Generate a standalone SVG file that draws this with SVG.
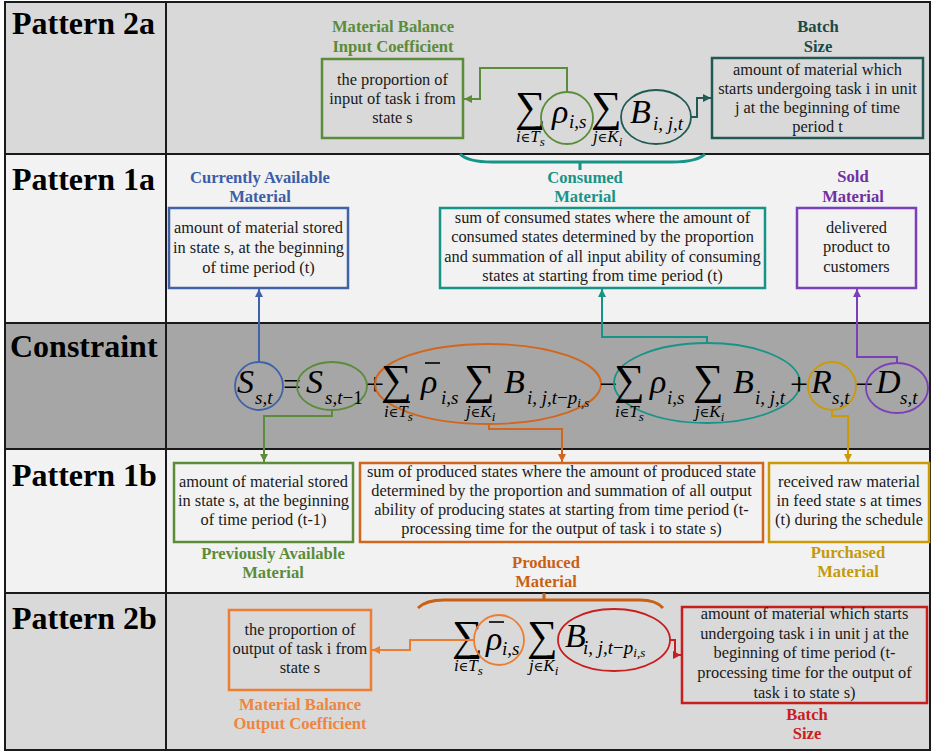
<svg xmlns="http://www.w3.org/2000/svg" width="931" height="752" viewBox="0 0 931 752">
  <style>
    .rowlbl { font-family: "Liberation Serif", serif; font-size: 32px; font-weight: bold; fill: #000; }
    .body { font-family: "Liberation Serif", serif; font-size: 16.4px; fill: #1a1a1a; text-anchor: middle; }
    .ttl { font-family: "Liberation Serif", serif; font-size: 16.6px; font-weight: bold; text-anchor: middle; }
    .box { fill: none; stroke-width: 2.5; }
    .ring { fill: none; stroke-width: 1.8; }
    .wire { fill: none; stroke-width: 2; }
    .v { font-family: "Liberation Serif", serif; font-style: italic; font-size: 34px; fill: #000; }
    .s { font-family: "Liberation Serif", serif; font-style: italic; font-size: 19px; fill: #000; }
    .lim { font-family: "Liberation Serif", serif; font-style: italic; font-size: 17px; fill: #000; }
    .ss { font-family: "Liberation Serif", serif; font-style: italic; font-size: 13px; fill: #000; }
    .el { font-family: "Liberation Serif", "DejaVu Serif", serif; font-style: normal; font-size: 13px; }
    .op { font-family: "Liberation Serif", serif; font-size: 32px; fill: #000; }
    .sum { font-family: "Liberation Serif", "DejaVu Serif", serif; font-size: 43px; fill: #000; }
    .up { font-style: normal; }
    .bar { stroke: #000; stroke-width: 1.6; }
  </style>
  <defs>
    <marker id="ah-green" markerUnits="userSpaceOnUse" markerWidth="8" markerHeight="8" refX="8" refY="4" orient="auto"><path d="M0,0 L8,4 L0,8 z" fill="#5b8c3a"/></marker>
    <marker id="ah-dteal" markerUnits="userSpaceOnUse" markerWidth="8" markerHeight="8" refX="8" refY="4" orient="auto"><path d="M0,0 L8,4 L0,8 z" fill="#215a54"/></marker>
    <marker id="ah-blue" markerUnits="userSpaceOnUse" markerWidth="8" markerHeight="8" refX="8" refY="4" orient="auto"><path d="M0,0 L8,4 L0,8 z" fill="#4062a8"/></marker>
    <marker id="ah-teal" markerUnits="userSpaceOnUse" markerWidth="8" markerHeight="8" refX="8" refY="4" orient="auto"><path d="M0,0 L8,4 L0,8 z" fill="#179488"/></marker>
    <marker id="ah-purple" markerUnits="userSpaceOnUse" markerWidth="8" markerHeight="8" refX="8" refY="4" orient="auto"><path d="M0,0 L8,4 L0,8 z" fill="#7b3fb8"/></marker>
    <marker id="ah-orange" markerUnits="userSpaceOnUse" markerWidth="8" markerHeight="8" refX="8" refY="4" orient="auto"><path d="M0,0 L8,4 L0,8 z" fill="#d2661c"/></marker>
    <marker id="ah-gold" markerUnits="userSpaceOnUse" markerWidth="8" markerHeight="8" refX="8" refY="4" orient="auto"><path d="M0,0 L8,4 L0,8 z" fill="#cc9a06"/></marker>
    <marker id="ah-lorange" markerUnits="userSpaceOnUse" markerWidth="8" markerHeight="8" refX="8" refY="4" orient="auto"><path d="M0,0 L8,4 L0,8 z" fill="#ed7d31"/></marker>
    <marker id="ah-red" markerUnits="userSpaceOnUse" markerWidth="8" markerHeight="8" refX="8" refY="4" orient="auto"><path d="M0,0 L8,4 L0,8 z" fill="#c81e1e"/></marker>
  </defs>

  <!-- table bands -->
  <g id="bands">
    <rect x="5" y="2" width="925" height="152" fill="#d9d9d9"/>
    <rect x="5" y="154" width="925" height="169" fill="#f2f2f2"/>
    <rect x="5" y="323" width="925" height="126" fill="#a6a6a6"/>
    <rect x="5" y="449" width="925" height="144" fill="#f2f2f2"/>
    <rect x="5" y="593" width="925" height="157" fill="#d9d9d9"/>
    <g stroke="#1a1a1a" stroke-width="2" fill="none">
      <rect x="5" y="2" width="925" height="748"/>
      <line x1="166" y1="2" x2="166" y2="750"/>
      <line x1="5" y1="154" x2="930" y2="154"/>
      <line x1="5" y1="323" x2="930" y2="323"/>
      <line x1="5" y1="449" x2="930" y2="449"/>
      <line x1="5" y1="593" x2="930" y2="593"/>
    </g>
    <text class="rowlbl" x="12" y="34">Pattern 2a</text>
    <text class="rowlbl" x="12" y="190">Pattern 1a</text>
    <text class="rowlbl" x="10" y="357">Constraint</text>
    <text class="rowlbl" x="12" y="486">Pattern 1b</text>
    <text class="rowlbl" x="12" y="629">Pattern 2b</text>
  </g>

  <!-- Pattern 2a -->
  <g id="input-coefficient">
    <text class="ttl" x="393" y="32" fill="#5b8c3a">Material Balance</text>
    <text class="ttl" x="393" y="52" fill="#5b8c3a">Input Coefficient</text>
    <rect class="box" x="322" y="59" width="141" height="79" stroke="#5b8c3a"/>
    <text class="body" x="392.5" y="85">the proportion of</text>
    <text class="body" x="392.5" y="104">input of task i from</text>
    <text class="body" x="392.5" y="123">state s</text>
  </g>
  <g id="batch-size-a">
    <text class="ttl" x="818" y="32" fill="#1a4a44">Batch</text>
    <text class="ttl" x="818" y="52" fill="#1a4a44">Size</text>
    <rect class="box" x="712" y="58" width="211" height="80" stroke="#215a54"/>
    <text class="body" x="817.5" y="75">amount of material which</text>
    <text class="body" x="817.5" y="94">starts undergoing task i in unit</text>
    <text class="body" x="817.5" y="113">j at the beginning of time</text>
    <text class="body" x="817.5" y="132">period t</text>
  </g>
  <g id="term-2a">
    <text class="sum" x="515" y="121">∑</text>
    <text class="lim" x="516" y="142">i<tspan class="el">∈</tspan>T<tspan class="ss" dy="4">s</tspan></text>
    <circle class="ring" cx="567" cy="118" r="26" stroke="#5b8c3a"/>
    <text class="v" x="552" y="123">ρ</text>
    <text class="s" x="569" y="128">i,s</text>
    <text class="sum" x="591" y="121">∑</text>
    <text class="lim" x="593" y="142">j<tspan class="el">∈</tspan>K<tspan class="ss" dy="4">i</tspan></text>
    <ellipse class="ring" cx="656" cy="117" rx="35" ry="27" stroke="#215a54"/>
    <text class="v" x="630" y="123">B</text>
    <text class="s" x="653" y="130">i, j,t</text>
  </g>

  <!-- Pattern 1a -->
  <g id="currently-available">
    <text class="ttl" x="260" y="183" fill="#3c5ea6">Currently Available</text>
    <text class="ttl" x="260" y="202" fill="#3c5ea6">Material</text>
    <rect class="box" x="169" y="208" width="179" height="80" stroke="#4062a8"/>
    <text class="body" x="258.5" y="233">amount of material stored</text>
    <text class="body" x="258.5" y="253">in state s, at the beginning</text>
    <text class="body" x="258.5" y="273">of time period (t)</text>
  </g>
  <g id="consumed">
    <text class="ttl" x="585" y="183" fill="#179488">Consumed</text>
    <text class="ttl" x="585" y="202" fill="#179488">Material</text>
    <rect class="box" x="440" y="208" width="325" height="80" stroke="#179488"/>
    <text class="body" x="602.5" y="223">sum of consumed states where the amount of</text>
    <text class="body" x="602.5" y="242">consumed states determined by the proportion</text>
    <text class="body" x="602.5" y="262">and summation of all input ability of consuming</text>
    <text class="body" x="602.5" y="281">states at starting from time period (t)</text>
  </g>
  <g id="sold">
    <text class="ttl" x="853" y="182" fill="#7030a0">Sold</text>
    <text class="ttl" x="853" y="202" fill="#7030a0">Material</text>
    <rect class="box" x="797" y="208" width="119" height="80" stroke="#7b3fb8"/>
    <text class="body" x="856.5" y="233">delivered</text>
    <text class="body" x="856.5" y="252">product to</text>
    <text class="body" x="856.5" y="272">customers</text>
  </g>

  <!-- Constraint equation -->
  <g id="eq-S">
    <circle class="ring" cx="259" cy="386" r="24" stroke="#4062a8"/>
    <text class="v" x="237" y="393">S</text>
    <text class="s" x="255" y="404">s,t</text>
  </g>
  <text class="op" x="283" y="395">=</text>
  <g id="eq-Sprev">
    <ellipse class="ring" cx="332" cy="386" rx="35" ry="24" stroke="#5b8c3a"/>
    <text class="v" x="306" y="393">S</text>
    <text class="s" x="325" y="404">s,t<tspan class="up">−1</tspan></text>
  </g>
  <text class="op" x="366" y="395">+</text>
  <g id="eq-produced">
    <ellipse class="ring" cx="488" cy="384" rx="113" ry="40" stroke="#d2661c"/>
    <text class="sum" x="381" y="394">∑</text>
    <text class="lim" x="384" y="417">i<tspan class="el">∈</tspan>T<tspan class="ss" dy="4">s</tspan></text>
    <line class="bar" x1="400" y1="402" x2="410" y2="402"/>
    <text class="v" x="421" y="393">ρ</text>
    <line class="bar" x1="425" y1="363" x2="440" y2="363"/>
    <text class="s" x="441" y="404">i,s</text>
    <text class="sum" x="464" y="394">∑</text>
    <text class="lim" x="466" y="417">j<tspan class="el">∈</tspan>K<tspan class="ss" dy="4">i</tspan></text>
    <text class="v" x="504" y="393">B</text>
    <text class="s" x="527" y="404">i, j,t<tspan class="up">−</tspan>p<tspan class="ss" dy="3">i,s</tspan></text>
  </g>
  <text class="op" x="599" y="395">−</text>
  <g id="eq-consumed">
    <ellipse class="ring" cx="707" cy="383" rx="93" ry="40" stroke="#179488"/>
    <text class="sum" x="614" y="394">∑</text>
    <text class="lim" x="615" y="417">i<tspan class="el">∈</tspan>T<tspan class="ss" dy="4">s</tspan></text>
    <text class="v" x="650" y="393">ρ</text>
    <text class="s" x="667" y="404">i,s</text>
    <text class="sum" x="693" y="394">∑</text>
    <text class="lim" x="695" y="417">j<tspan class="el">∈</tspan>K<tspan class="ss" dy="4">i</tspan></text>
    <text class="v" x="733" y="393">B</text>
    <text class="s" x="755" y="404">i, j,t</text>
  </g>
  <text class="op" x="790" y="395">+</text>
  <g id="eq-R">
    <circle class="ring" cx="832" cy="386" r="24" stroke="#cc9a06"/>
    <text class="v" x="811" y="393">R</text>
    <text class="s" x="832" y="404">s,t</text>
  </g>
  <text class="op" x="855" y="395">−</text>
  <g id="eq-D">
    <ellipse class="ring" cx="897" cy="388" rx="31" ry="25" stroke="#7b3fb8"/>
    <text class="v" x="876" y="393">D</text>
    <text class="s" x="900" y="404">s,t</text>
  </g>

  <!-- Pattern 1b -->
  <g id="previously-available">
    <rect class="box" x="174" y="463" width="179" height="79" stroke="#5b8c3a"/>
    <text class="body" x="263.5" y="487">amount of material stored</text>
    <text class="body" x="263.5" y="506">in state s, at the beginning</text>
    <text class="body" x="263.5" y="525">of time period (t-1)</text>
    <text class="ttl" x="273" y="559" fill="#5b8c3a">Previously Available</text>
    <text class="ttl" x="273" y="578" fill="#5b8c3a">Material</text>
  </g>
  <g id="produced">
    <rect class="box" x="360" y="463" width="403" height="79" stroke="#d2661c"/>
    <text class="body" x="561.5" y="477">sum of produced states where the amount of produced state</text>
    <text class="body" x="561.5" y="496">determined by the proportion and summation of all output</text>
    <text class="body" x="561.5" y="515">ability of producing states at starting from time period (t-</text>
    <text class="body" x="561.5" y="534">processing time for the output of task i to state s)</text>
    <text class="ttl" x="546" y="568" fill="#c96112">Produced</text>
    <text class="ttl" x="546" y="587" fill="#c96112">Material</text>
  </g>
  <g id="purchased">
    <rect class="box" x="769" y="463" width="160" height="79" stroke="#cc9a06"/>
    <text class="body" x="849" y="487">received raw material</text>
    <text class="body" x="849" y="506">in feed state s at times</text>
    <text class="body" x="849" y="525">(t) during the schedule</text>
    <text class="ttl" x="848" y="558" fill="#c49a0b">Purchased</text>
    <text class="ttl" x="848" y="577" fill="#c49a0b">Material</text>
  </g>

  <!-- Pattern 2b -->
  <g id="output-coefficient">
    <rect class="box" x="229" y="610" width="142" height="80" stroke="#ed7d31"/>
    <text class="body" x="300" y="635">the proportion of</text>
    <text class="body" x="300" y="654">output of task i from</text>
    <text class="body" x="300" y="673">state s</text>
    <text class="ttl" x="300" y="710" fill="#ee8540">Material Balance</text>
    <text class="ttl" x="300" y="729" fill="#ee8540">Output Coefficient</text>
  </g>
  <g id="batch-size-b">
    <rect class="box" x="682" y="607" width="245" height="96" stroke="#c81e1e"/>
    <text class="body" x="804.5" y="619">amount of material which starts</text>
    <text class="body" x="804.5" y="639">undergoing task i in unit j at the</text>
    <text class="body" x="804.5" y="658">beginning of time period (t-</text>
    <text class="body" x="804.5" y="678">processing time for the output of</text>
    <text class="body" x="804.5" y="698">task i to state s)</text>
    <text class="ttl" x="807" y="720" fill="#c81e1e">Batch</text>
    <text class="ttl" x="807" y="739" fill="#c81e1e">Size</text>
  </g>
  <g id="term-2b">
    <text class="sum" x="452" y="650">∑</text>
    <text class="lim" x="454" y="671">i<tspan class="el">∈</tspan>T<tspan class="ss" dy="4">s</tspan></text>
    <line class="bar" x1="470" y1="656" x2="480" y2="656"/>
    <circle class="ring" cx="499" cy="640" r="25" stroke="#ed7d31"/>
    <text class="v" x="486" y="650">ρ</text>
    <line class="bar" x1="489" y1="622" x2="504" y2="622"/>
    <text class="s" x="502" y="655">i,s</text>
    <text class="sum" x="527" y="650">∑</text>
    <text class="lim" x="529" y="671">j<tspan class="el">∈</tspan>K<tspan class="ss" dy="4">i</tspan></text>
    <ellipse class="ring" cx="614" cy="640" rx="56" ry="31" stroke="#c81e1e"/>
    <text class="v" x="565" y="647">B</text>
    <text class="s" x="583" y="654">i, j,t<tspan class="up">−</tspan>p<tspan class="ss" dy="3">i,s</tspan></text>
  </g>

  <!-- connectors and braces -->
  <g id="connectors">
    <path class="wire" d="M567 92 V68 H480 V99 H464" stroke="#5b8c3a" marker-end="url(#ah-green)"/>
    <path class="wire" d="M691 117 H697 V98 H711" stroke="#215a54" marker-end="url(#ah-dteal)"/>
    <path d="M460 154 Q468 162 492 162 H672 Q697 162 705 154 M580 162 V170" fill="none" stroke="#179488" stroke-width="3"/>
    <path class="wire" d="M259 362 V289" stroke="#4062a8" marker-end="url(#ah-blue)"/>
    <path class="wire" d="M707 343 V337 H602 V289" stroke="#179488" marker-end="url(#ah-teal)"/>
    <path class="wire" d="M897 363 V357 H857 V289" stroke="#7b3fb8" marker-end="url(#ah-purple)"/>
    <path class="wire" d="M332 410 V416 H264 V462" stroke="#5b8c3a" marker-end="url(#ah-green)"/>
    <path class="wire" d="M489 424 V429 H562 V462" stroke="#d2661c" marker-end="url(#ah-orange)"/>
    <path class="wire" d="M832 410 V416 H848 V462" stroke="#cc9a06" marker-end="url(#ah-gold)"/>
    <path d="M418 608 Q426 600 444 600 H640 Q656 600 663 608 M544 600 V593" fill="none" stroke="#c96112" stroke-width="3"/>
    <path class="wire" d="M474 640 H410 V650 H372" stroke="#ed7d31" marker-end="url(#ah-lorange)"/>
    <path class="wire" d="M670 640 H675 V655 H681" stroke="#c81e1e" marker-end="url(#ah-red)"/>
  </g>
</svg>
